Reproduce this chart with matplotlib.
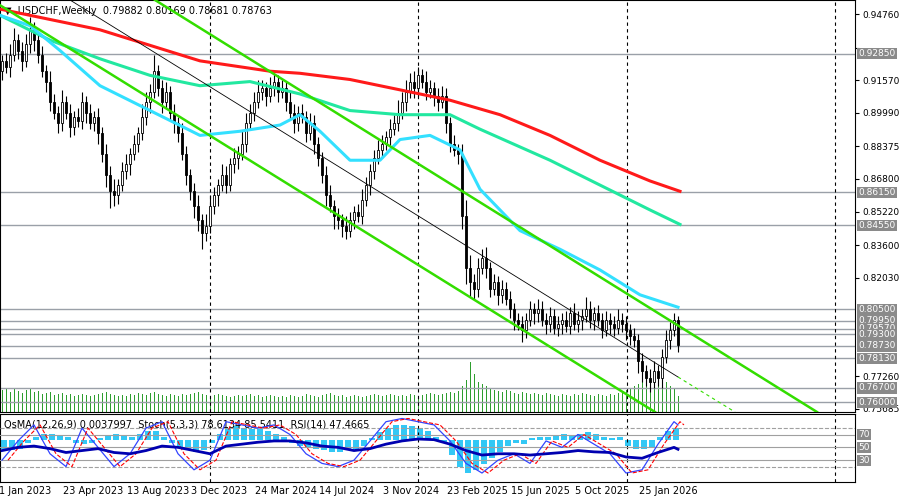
import matplotlib
matplotlib.use("Agg")
import matplotlib.pyplot as plt
import numpy as np

closes = [0.925,0.922,0.928,0.935,0.930,0.925,0.933,0.940,0.935,0.928,
          0.920,0.915,0.905,0.900,0.895,0.905,0.900,0.893,0.898,0.896,
          0.905,0.900,0.895,0.898,0.890,0.880,0.870,0.862,0.860,0.865,
          0.872,0.875,0.880,0.885,0.890,0.898,0.905,0.910,0.920,0.912,
          0.905,0.910,0.900,0.895,0.890,0.880,0.870,0.862,0.855,0.848,
          0.842,0.845,0.855,0.860,0.865,0.870,0.865,0.875,0.878,0.880,
          0.885,0.895,0.900,0.905,0.910,0.912,0.908,0.912,0.915,0.910,
          0.912,0.905,0.900,0.895,0.900,0.898,0.890,0.895,0.885,0.878,
          0.870,0.860,0.855,0.850,0.848,0.845,0.843,0.848,0.852,0.850,
          0.858,0.865,0.872,0.878,0.882,0.885,0.888,0.892,0.895,0.900,
          0.905,0.910,0.915,0.912,0.918,0.915,0.910,0.912,0.908,0.905,
          0.908,0.895,0.885,0.882,0.880,0.850,0.825,0.818,0.815,0.825,
          0.830,0.825,0.815,0.818,0.812,0.815,0.810,0.805,0.800,0.798,
          0.795,0.800,0.805,0.803,0.805,0.800,0.798,0.802,0.796,0.798,
          0.800,0.797,0.803,0.798,0.800,0.802,0.805,0.800,0.803,0.800,
          0.795,0.800,0.798,0.796,0.800,0.798,0.795,0.792,0.790,0.780,
          0.775,0.772,0.770,0.775,0.772,0.782,0.790,0.795,0.800,0.7876]
hi_ext = [3,4,5,6,3,4,5,6,4,3, 4,3,5,4,3,6,3,4,3,4, 5,3,4,3,4,3,5,4,6,3,
          4,5,3,4,3,6,5,4,8,3, 4,5,3,4,3,5,4,3,4,5, 3,6,5,4,3,5,4,3,5,4,
          6,5,4,5,6,4,3,5,4,3, 4,3,5,4,3,4,3,5,4,3, 3,4,5,3,4,3,5,4,3,4,
          5,4,3,4,5,4,3,5,4,6, 5,6,4,5,4,3,5,4,3,4, 5,4,3,4,3,5,8,6,4,5,
          4,5,3,4,3,4,3,4,3,3, 4,3,4,3,5,4,3,4,3,4, 3,4,3,5,4,3,6,4,3,4,
          3,4,3,4,5,3,4,3,4,3, 4,3,4,5,3,4,5,4,3,2]
lo_ext = [4,3,5,3,4,5,3,4,5,4, 3,5,4,3,5,4,3,5,4,3, 4,5,3,4,5,4,6,8,5,4,
          3,4,5,3,4,3,4,5,3,4, 5,3,4,5,4,3,5,4,6,5, 8,4,3,4,5,3,4,3,4,5,
          3,4,3,4,3,4,5,3,4,5, 3,4,3,5,4,3,4,3,5,4, 4,5,3,6,4,5,4,3,4,3,
          4,3,5,4,3,4,3,4,3,4, 3,4,3,5,4,3,4,3,5,4, 3,5,4,3,5,6,8,7,5,4,
          3,5,4,3,5,4,3,4,5,3, 6,4,3,5,4,3,5,4,3,4, 5,3,4,3,4,5,3,4,5,3,
          4,3,5,4,3,4,5,4,3,6, 5,4,5,3,4,5,3,4,3,3]
volume = [22,24,20,23,21,19,22,24,20,21, 18,19,20,17,18,19,17,18,16,17,
          18,17,16,17,18,19,20,18,17,16, 17,16,18,17,19,18,17,19,20,18,
          17,16,18,17,16,18,17,18,19,20, 18,17,16,17,18,17,16,15,16,17,
          16,17,18,16,17,15,16,17,16,15, 16,15,17,16,15,16,18,17,16,15,
          17,18,19,17,16,17,15,16,17,16, 15,16,17,18,17,16,17,18,17,16,
          17,16,18,17,16,17,18,19,18,17, 18,19,20,19,21,26,32,50,38,30,
          28,26,24,22,21,20,22,21,19,18, 20,19,18,19,18,17,19,18,17,16,
          18,17,16,18,17,19,18,17,16,18, 17,16,18,17,19,20,22,24,26,28,
          30,34,38,36,32,28,30,26,24,16]

ma_x = [0,100,200,270,300,350,400,450,500,550,600,650,680]
ma200_y = [0.950,0.940,0.925,0.920,0.919,0.916,0.911,0.906,0.899,0.889,0.877,0.867,0.862]
ma100_x = [0,50,100,150,200,250,300,350,400,450,480,550,600,650,680]
ma100_y = [0.947,0.935,0.926,0.918,0.913,0.915,0.909,0.901,0.899,0.899,0.892,0.877,0.865,0.853,0.846]
ma50_x = [0,30,60,100,150,200,240,280,300,320,350,380,400,430,460,480,520,560,600,640,678]
ma50_y = [0.947,0.942,0.930,0.913,0.901,0.889,0.891,0.894,0.899,0.891,0.877,0.877,0.887,0.889,0.882,0.863,0.843,0.834,0.824,0.812,0.806]

levels = [0.9285,0.8615,0.8455,0.8050,0.7995,0.7957,0.7930,0.7873,0.7813,0.7670,0.7600]
level_labels = ["0.92850","0.86150","0.84550","0.80500","0.79950","0.79570","0.79300",
                "0.78730","0.78130","0.76700","0.76000"]
price_ticks = [0.9476,0.93105,0.9157,0.8999,0.88375,0.8680,0.8522,0.8360,0.8203,0.7726,0.75685]
price_tick_labels = ["0.94760","","0.91570","0.89990","0.88375","0.86800","0.85220",
                     "0.83600","0.82030","0.77260","0.75685"]
date_labels = ["1 Jan 2023","23 Apr 2023","13 Aug 2023","3 Dec 2023","24 Mar 2024",
               "14 Jul 2024","3 Nov 2024","23 Feb 2025","15 Jun 2025","5 Oct 2025","25 Jan 2026"]

stoch = [30,60,85,40,20,80,50,20,40,80,90,40,15,30,90,85,80,85,70,40,25,20,30,60,
         90,95,90,85,60,25,10,30,40,25,60,50,70,55,40,10,15,55,90,85]
rsi = [45,50,52,48,42,45,48,42,40,45,52,50,45,40,52,55,58,60,60,57,52,50,45,48,
       55,60,63,62,55,45,38,40,40,38,40,42,45,43,42,35,33,42,50,47]
osma = [-3,-3.5,-3,-1,1,2,2,1.5,1,-1, -1.5,-1,0.5,1.5,2,1.5,1,2,3,3,
        1,-1,-2.5,-3.5,-4,-3.5,-1,2,4,4.5, 4,3.5,3.5,3,2,1,-1,-2,-2.5,-3,
        -3.5,-4,-4,-3.5,-3,-2,0.5,2.5,4,5, 5,4.5,4,3,1,-1,-5,-9,-11,-10,
        -8,-6,-4,-2,-1,-1.5,0.5,1,1,1.5, 2,1.5,2,2.5,2,1,0.5,1,-2,-3,
        -3,-2.5,1,3,4]

W, H = 900, 501
fig = plt.figure(figsize=(9, 5.01), dpi=100, facecolor="white")
def rect(x0, y0, x1, y1):
    return [x0 / W, 1 - y1 / H, (x1 - x0) / W, (y1 - y0) / H]

ax = fig.add_axes(rect(0, 0, 855, 412))
XL = (-0.5, 213.25)
YL = (0.7554, 0.9544)
px = lambda p: (p - 2) / 4.0

n = len(closes)
idx = np.arange(n)
opens = [0.920] + closes[:-1]
highs = [max(o, c) + h / 1000 for o, c, h in zip(opens, closes, hi_ext)]
lows = [min(o, c) - l / 1000 for o, c, l in zip(opens, closes, lo_ext)]

axv = ax.twinx()
axv.set_ylim(0, 412)
axv.bar(idx, volume, width=0.25, color="#2e9e2e")
axv.axis("off")
ax.set_zorder(axv.get_zorder() + 1)
ax.patch.set_visible(False)

for lv in levels:
    ax.axhline(lv, color="#9aa0a8", lw=1)
for p in [210, 418, 627, 835]:
    ax.axvline(px(p), color="black", lw=0.8, ls=(0, (3, 3)))

for i in idx:
    o, c = opens[i], closes[i]
    ax.vlines(i, lows[i], highs[i], color="black", lw=0.8, zorder=3)
    b0, b1 = min(o, c), max(o, c)
    ax.bar(i, max(b1 - b0, 0.0004), bottom=b0, width=0.6,
           color="white" if c >= o else "black", edgecolor="black", lw=0.6, zorder=4)

ax.plot([px(x) for x in ma_x], ma200_y, color="#ff1a1a", lw=2.2, zorder=5)
ax.plot([px(x) for x in ma100_x], ma100_y, color="#22e8a0", lw=2.2, zorder=5)
ax.plot([px(x) for x in ma50_x], ma50_y, color="#33e0ff", lw=2.2, zorder=5)

def py(y):
    return YL[1] - y / 412 * (YL[1] - YL[0])
ax.plot([px(155), px(817)], [py(0), py(412)], color="#33dd00", lw=1.8, zorder=6)
ax.plot([px(-10), px(655)], [py(-1), py(412)], color="#33dd00", lw=1.8, zorder=6)
ax.plot([px(70), px(678)], [py(0), py(377)], color="black", lw=0.6, zorder=6)
ax.plot([px(678), px(735)], [py(377), py(412)], color="#33dd00", lw=0.8, ls=(0, (3, 3)), zorder=6)

ax.set_xlim(*XL); ax.set_ylim(*YL)
ax.set_xticks([])
ax.yaxis.tick_right()
ax.set_yticks(price_ticks)
ax.set_yticklabels(price_tick_labels, fontsize=6.5)
ax.tick_params(axis="y", length=3, pad=2)
for lv, lb in zip(levels, level_labels):
    ax.text(1.004, (lv - YL[0]) / (YL[1] - YL[0]), lb, transform=ax.transAxes,
            fontsize=6.5, color="white", va="center", ha="left",
            bbox=dict(boxstyle="square,pad=0.12", fc="#8a8a8a", ec="none"), zorder=10)
ax.text(0.005, 0.985, "▼  USDCHF,Weekly  0.79882 0.80169 0.78681 0.78763",
        transform=ax.transAxes, fontsize=7, va="top", ha="left")
for s in ax.spines.values():
    s.set_linewidth(0.8)

ai = fig.add_axes(rect(0, 414, 855, 482))
ai.set_xlim(*XL)
ai.set_ylim(-0.0140, 0.0085)
oj = np.arange(len(osma)) * 2 + 0.5
ai.bar(oj, np.array(osma) / 1000, width=1.6, color="#33c8f5")
ai.yaxis.tick_right()
ai.set_yticks([0.008019, 0.0, -0.013172])
ai.set_yticklabels(["0.0080188", "0.00", "-0.013172"], fontsize=6.5)
ai.tick_params(axis="y", length=0, pad=2)
ai.set_xticks([])
for p in [210, 418, 627, 835]:
    ai.axvline(px(p), color="black", lw=0.8, ls=(0, (3, 3)))

a2 = ai.twinx()
a2.set_ylim(-4, 102)
a2.set_xlim(*XL)
for lv, ls in [(80, "--"), (70, "-"), (50, "-"), (30, "-"), (20, "--")]:
    a2.axhline(lv, color="#a0a0a0", lw=0.8, ls=ls)
sx = [min(k * 4, 169) for k in range(len(stoch))]
a2.plot(sx, stoch, color="#3344ff", lw=0.9)
a2.plot([s + 1.5 for s in sx], stoch, color="red", lw=0.8, ls="--")
a2.plot(sx, rsi, color="#0000b0", lw=2)
a2.set_yticks([])
a2.axis("off")
for v, lb in [(70, "70"), (50, "50"), (30, "30")]:
    ai.text(1.004, (v + 4) / 106, lb, transform=ai.transAxes, fontsize=6.5, color="white",
            va="center", ha="left", bbox=dict(boxstyle="square,pad=0.12", fc="#8a8a8a", ec="none"))
ai.text(0.005, 0.92, "OsMA(12,26,9) 0.0037997  Stoch(5,3,3) 78.6134 85.5411  RSI(14) 47.4665",
        transform=ai.transAxes, fontsize=7, va="top", ha="left", zorder=10)

for k, lb in enumerate(date_labels):
    x = 2 + 64 * k
    fig.text((x - 3) / W, 1 - 491 / H, lb, fontsize=7, ha="left", va="center")

fig.savefig("out.png", dpi=100, facecolor="white")
